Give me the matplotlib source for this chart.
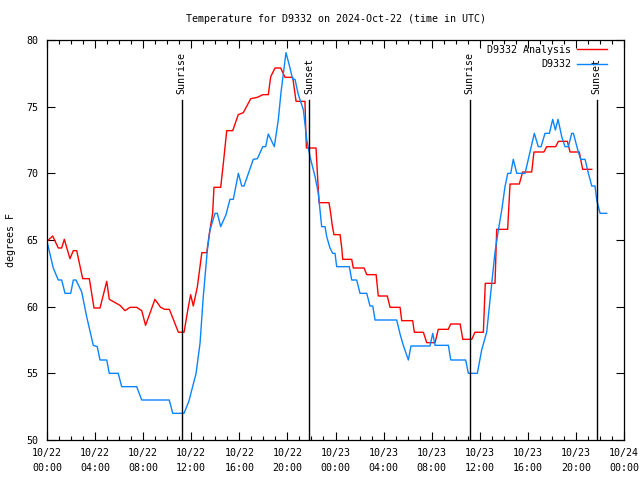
import numpy as np
import pandas as pd
import matplotlib
matplotlib.use("Agg")
import matplotlib.pyplot as plt
import matplotlib.dates as mdates

start = pd.Timestamp("2024-10-22 00:00")

# observed station temperature, hours since start / degrees F
obs_hours = [0.00, 0.52, 0.94, 1.22, 1.50, 1.97, 2.19, 2.41, 2.89, 3.30, 3.85, 4.18, 4.41, 4.97,
             5.18, 5.93, 6.21, 7.46, 7.88, 10.17, 10.46, 11.40, 11.80, 12.40, 12.73, 13.00, 13.34,
             13.56, 13.98, 14.17, 14.45, 14.89, 15.22, 15.50, 15.92, 16.20, 16.39, 17.16, 17.50,
             17.95, 18.19, 18.41, 18.91, 19.24, 19.47, 19.88, 20.16, 20.44, 20.63, 20.91, 21.33,
             21.61, 21.88, 22.30, 22.57, 22.85, 23.13, 23.27, 23.54, 23.77, 23.96, 24.10, 25.15,
             25.35, 25.76, 26.04, 26.60, 26.87, 27.10, 27.29, 29.09, 29.37, 29.64, 30.06, 30.28,
             31.86, 32.09, 32.28, 33.39, 33.59, 34.83, 35.05, 35.80, 36.16, 36.58, 36.91, 37.27,
             37.55, 37.83, 38.10, 38.33, 38.58, 38.79, 39.08, 39.77, 40.18, 40.54, 40.87, 41.10,
             41.43, 41.79, 42.07, 42.29, 42.51, 42.82, 43.09, 43.37, 43.65, 43.79, 44.20, 44.40,
             44.76, 45.04, 45.32, 45.59, 45.73, 46.01, 46.56]
obs_temp = [64.9, 62.9, 62.0, 62.0, 61.0, 61.0, 62.0, 62.0, 61.1, 59.25, 57.1, 57.0, 56.0, 56.0,
            55.0, 55.0, 54.0, 54.0, 53.0, 53.0, 52.0, 52.0, 52.9, 55.0, 57.25, 60.75, 64.25,
            65.75, 67.0, 67.0, 66.0, 66.9, 68.05, 68.05, 70.0, 69.05, 69.05, 71.05, 71.1,
            72.0, 72.0, 72.95, 72.0, 74.0, 76.1, 79.05, 78.1, 77.05, 77.05, 75.9, 74.75,
            72.5, 71.25, 69.75, 68.5, 66.0, 66.0, 65.25, 64.4, 64.0, 64.0, 63.0, 63.0,
            62.0, 62.0, 61.0, 61.0, 60.05, 60.05, 59.0, 59.0, 57.95, 57.1, 56.0, 57.05,
            57.05, 58.0, 57.1, 57.1, 56.0, 56.0, 55.0, 55.0, 56.75, 58.1, 61.0, 64.1,
            65.75, 67.25, 69.0, 70.0, 70.0, 71.05, 70.0, 70.0, 71.6, 73.0, 72.0, 72.0,
            73.0, 73.0, 74.05, 73.25, 74.05, 72.75, 72.0, 72.0, 73.0, 73.0, 71.6, 71.05,
            71.05, 70.0, 69.05, 69.05, 68.0, 67.0, 67.0]

# analysis temperature
ana_hours = [0.00, 0.47, 0.94, 1.22, 1.44, 1.91, 2.19, 2.47, 2.97, 3.52, 3.91, 4.41, 4.97, 5.18,
             6.07, 6.49, 6.90, 7.46, 7.88, 8.20, 8.98, 9.45, 9.80, 10.18, 10.93, 11.40, 11.76,
             11.95, 12.17, 12.51, 12.88, 13.29, 13.50, 13.78, 13.89, 14.45, 14.67, 14.95, 15.45,
             15.91, 16.33, 16.95, 17.50, 17.95, 18.41, 18.61, 18.97, 19.44, 19.80, 20.44, 20.72,
             21.46, 21.52, 21.58, 22.38, 22.50, 22.63, 23.46, 23.60, 23.73, 23.87, 24.38, 24.52,
             24.60, 25.35, 25.48, 26.38, 26.60, 27.38, 27.56, 28.31, 28.54, 29.37, 29.51, 30.42,
             30.56, 31.31, 31.59, 32.28, 32.55, 33.38, 33.58, 34.37, 34.59, 35.34, 35.60, 36.30,
             36.46, 37.27, 37.41, 38.32, 38.52, 39.29, 39.57, 40.32, 40.51, 41.34, 41.57, 42.32,
             42.54, 43.29, 43.51, 44.28, 44.56, 45.32]
ana_temp = [64.9, 65.3, 64.4, 64.4, 65.05, 63.6, 64.2, 64.2, 62.1, 62.1, 59.9, 59.9, 61.9, 60.55,
            60.1, 59.7, 59.95, 59.95, 59.7, 58.6, 60.55, 59.95, 59.8, 59.8, 58.08, 58.08, 60.0,
            60.9, 60.05, 61.5, 64.05, 64.05, 65.45, 67.0, 68.95, 68.95, 70.75, 73.2, 73.2,
            74.4, 74.55, 75.6, 75.7, 75.9, 75.9, 77.25, 77.9, 77.9, 77.2, 77.2, 75.4,
            75.4, 73.5, 71.9, 71.9, 69.9, 67.8, 67.8, 67.0, 66.1, 65.4, 65.4, 64.4,
            63.55, 63.55, 62.9, 62.9, 62.4, 62.4, 60.8, 60.8, 59.95, 59.95, 58.95, 58.95,
            58.08, 58.08, 57.3, 57.3, 58.3, 58.3, 58.7, 58.7, 57.55, 57.55, 58.08, 58.08,
            61.75, 61.75, 65.8, 65.8, 69.2, 69.2, 70.1, 70.1, 71.6, 71.6, 72.0, 72.0,
            72.4, 72.4, 71.6, 71.6, 70.3, 70.3]

sun_hours = [11.21, 21.82, 35.15, 45.73]
sun_labels = ["Sunrise", "Sunset", "Sunrise", "Sunset"]

mono = "DejaVu Sans Mono"
fs = 7.2
plt.rcParams["font.family"] = mono
plt.rcParams["font.size"] = fs


def to_time(hours):
    return start + pd.to_timedelta(np.asarray(hours), unit="h")


fig = plt.figure(figsize=(6.4, 4.8), dpi=100)
ax = fig.add_axes([47 / 640, 40 / 480, 577 / 640, 400 / 480])

ax.plot(to_time(ana_hours), ana_temp, color="#ff0000", lw=1.0, label="D9332 Analysis")
ax.plot(to_time(obs_hours), obs_temp, color="#0a84ff", lw=1.0, label="D9332")

for h, lbl in zip(sun_hours, sun_labels):
    t = to_time([h])[0]
    ax.plot([t, t], [0, 0.85], color="black", lw=1.0, transform=ax.get_xaxis_transform())
    ax.text(t, 0.865, lbl, rotation=90, ha="center", va="bottom",
            transform=ax.get_xaxis_transform(), fontsize=fs)

ax.set_xlim(start, start + pd.Timedelta(hours=48))
ax.set_ylim(50, 80)
ax.set_yticks(np.arange(50, 81, 5))
ax.xaxis.set_major_locator(mdates.HourLocator(byhour=range(0, 24, 4)))
ax.xaxis.set_minor_locator(mdates.HourLocator())
ax.xaxis.set_major_formatter(mdates.DateFormatter("%m/%d\n%H:%M"))
ax.tick_params(which="both", direction="in", top=True, right=True, labelsize=fs, width=0.8)
ax.tick_params(which="major", length=6, pad=6)
ax.tick_params(which="minor", length=3)
for s in ax.spines.values():
    s.set_linewidth(0.9)

ax.set_ylabel("degrees F", fontsize=fs, labelpad=8)
ax.set_title("Temperature for D9332 on 2024-Oct-22 (time in UTC)", fontsize=fs, pad=13)
ax.legend(loc="upper right", bbox_to_anchor=(0.98, 1.0), frameon=False, markerfirst=False,
          handlelength=3.0, fontsize=fs, borderaxespad=0.0, borderpad=0.5,
          labelspacing=0.45, handletextpad=0.6)

fig.canvas.draw()
plt.setp(ax.get_xticklabels(), linespacing=1.6)

fig.savefig("out.png", dpi=100)
